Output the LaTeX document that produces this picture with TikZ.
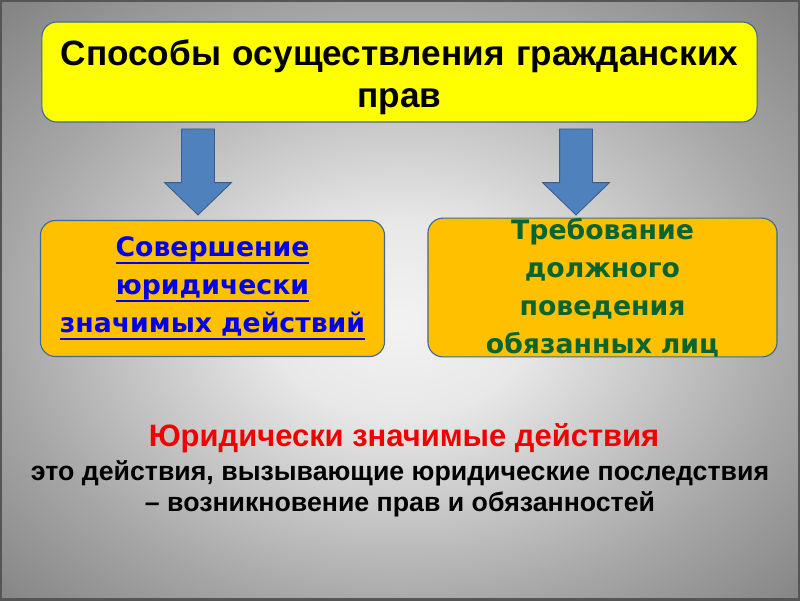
\documentclass[tikz,border=0pt]{standalone}
\usepackage{fontspec}
\setmainfont{Liberation Sans}
\newfontfamily\boxfont{DejaVu Sans}
\usepackage{tikz}
\usetikzlibrary{shapes.geometric, shapes.arrows, arrows}

\definecolor{titleyellow}{RGB}{255,255,0}
\definecolor{boxorange}{RGB}{255,192,0}
\definecolor{boxline}{RGB}{65,105,145}
\definecolor{arrowblue}{RGB}{79,129,189}
\definecolor{arrowline}{RGB}{56,93,138}
\definecolor{linkblue}{RGB}{0,0,235}
\definecolor{dutygreen}{RGB}{10,100,45}
\definecolor{termred}{RGB}{240,0,0}
\definecolor{framegray}{RGB}{85,85,85}

\pgfdeclareradialshading{slidebg}{\pgfpoint{0bp}{-2bp}}{%
  color(0bp)=(white!95!black); color(8bp)=(white!91!black);
  color(25bp)=(white!65!black); color(35bp)=(white!52!black);
  color(50bp)=(white!50!black)}

% underlined link-like words
\newsavebox{\linkbox}
\newcommand{\linkword}[1]{\leavevmode\sbox{\linkbox}{#1}\rlap{\rule[-5pt]{\wd\linkbox}{1.3pt}}\usebox{\linkbox}}

\tikzstyle{titlebox} = [rectangle, rounded corners=0.375cm, minimum width=17.875cm, minimum height=2.5cm, text width=17.5cm, align=center, draw=boxline, line width=0.8pt, fill=titleyellow, font=\fontsize{25}{30}\selectfont\bfseries]
\tikzstyle{waybox} = [rectangle, rounded corners=0.375cm, minimum height=3.4cm, text width=8.6cm, align=center, draw=boxline, line width=0.8pt, fill=boxorange, inner sep=0pt, font=\boxfont\fontsize{19}{27}\selectfont\bfseries]
\tikzstyle{downarrow} = [single arrow, rotate=-90, minimum height=2.15cm, minimum width=0pt, single arrow head extend=0.425cm, single arrow tip angle=92, inner xsep=0pt, inner ysep=0.4cm, draw=arrowline, line width=0.6pt, fill=arrowblue]

\begin{document}
\begin{tikzpicture}[x=0.025cm, y=-0.025cm]

    % Background
    \useasboundingbox (0,0) rectangle (800,600);
    \shade[shading=slidebg] (0,0) rectangle (800,600);
    \draw[framegray, line width=1.5pt] (0.5,0.5) rectangle (799.5,599.5);

    % Nodes
    \node (title) [titlebox] at (399.5,72) {\rule{0pt}{26pt}Способы осуществления гражданских\\ прав};

    \node (acts) [waybox, minimum width=8.525cm] at (212.5,288.5) {\color{linkblue}\linkword{Совершение}\\ \linkword{юридически}\\ \linkword{значимых действий}};
    \node (demand) [waybox, minimum width=8.725cm] at (602.5,287.5) {\color{dutygreen}Требование\\ должного\\ поведения\\ обязанных лиц};

    \node (leftarrow) [downarrow] at (198,164) {};
    \node (rightarrow) [downarrow] at (576,164) {};

    \node (definition) [align=center, font=\fontsize{19}{21.5}\selectfont\bfseries] at (400,470) {\hspace*{5.7pt}{\color{termred}\fontsize{22}{24}\selectfont Юридически значимые действия}\\[3pt] это действия, вызывающие юридические последствия\\ – возникновение прав и обязанностей};

    \end{tikzpicture}
\end{document}
